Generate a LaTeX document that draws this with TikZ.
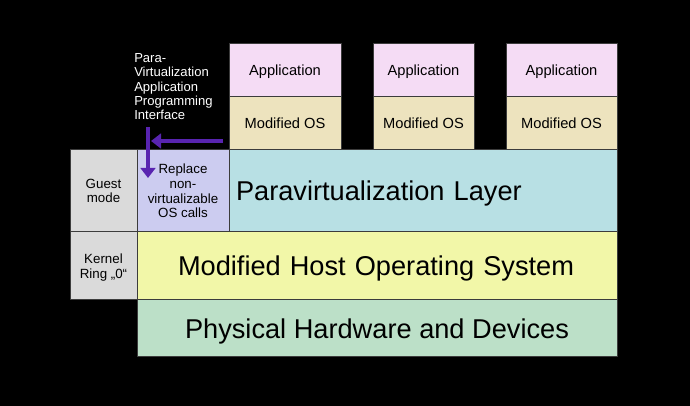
\documentclass[tikz,border=0pt]{standalone}
\usepackage{fontspec}
\setmainfont{Liberation Sans}
\usetikzlibrary{arrows.meta}
\definecolor{appc}{RGB}{245,220,245}
\definecolor{osc}{RGB}{237,227,190}
\definecolor{grayc}{RGB}{218,218,218}
\definecolor{repc}{RGB}{204,204,240}
\definecolor{parac}{RGB}{184,224,228}
\definecolor{hostc}{RGB}{242,247,168}
\definecolor{hwc}{RGB}{188,224,200}
\definecolor{arrc}{RGB}{88,36,176}
\definecolor{edgec}{RGB}{60,60,60}
\tikzset{
  box/.style={draw=edgec, line width=0.75pt, inner sep=0pt, align=center, text=black, text depth=0pt},
  small/.style={font=\fontsize{10}{11}\selectfont},
  mid/.style={font=\fontsize{11}{13}\selectfont},
  big/.style={font=\fontsize{20.4}{24}\selectfont},
  arr/.style={draw=arrc, line width=3.2pt, -{Triangle[length=7.5pt,width=11pt]}},
}
\begin{document}
\begin{tikzpicture}[x=0.75pt,y=-0.75pt]
\fill[black] (0,0) rectangle (690,406);
\useasboundingbox (0,0) rectangle (690,406);
% top stacks
\node[box,mid,fill=appc,minimum width=84pt,minimum height=39.75pt] (app1) at (285,70.5) {Application};
\node[box,mid,fill=osc,minimum width=84pt,minimum height=39.75pt] (os1) at (285,123.5) {Modified OS};
\node[box,mid,fill=appc,minimum width=75.75pt,minimum height=39.75pt] (app2) at (423.5,70.5) {Application};
\node[box,mid,fill=osc,minimum width=75.75pt,minimum height=39.75pt] (os2) at (423.5,123.5) {Modified OS};
\node[box,mid,fill=appc,minimum width=83.25pt,minimum height=39.75pt] (app3) at (561.5,70.5) {Application};
\node[box,mid,fill=osc,minimum width=83.25pt,minimum height=39.75pt] (os3) at (561.5,123.5) {Modified OS};
% layers
\node[box,small,fill=grayc,minimum width=50.25pt,minimum height=61.5pt] (guest) at (103.5,191) {Guest\\mode};
\node[box,small,fill=grayc,minimum width=50.25pt,minimum height=51pt] (kernel) at (103.5,266) {Kernel\\Ring „0“};
\node[box,small,fill=repc,minimum width=69pt,minimum height=61.5pt] (repl) at (183,191) {Replace\\non-\\virtualizable\\OS calls};
\node[box,big,fill=parac,minimum width=291pt,minimum height=61.5pt,text width=280.5pt,align=left] (para) at (423,191) {Paravirtualization Layer};
\node[box,big,fill=hostc,minimum width=360pt,minimum height=51pt,text width=298.5pt,align=left] (host) at (377,266) {Modified Host Operating System};
\node[box,big,fill=hwc,minimum width=360pt,minimum height=42.75pt] (hw) at (377,328.5) {Physical Hardware and Devices};
% annotation
\node[anchor=north west, inner sep=0pt, align=left, text=white, font=\fontsize{9.8}{10.6}\selectfont] (api) at (134,53.5) {Para-\\Virtualization\\Application\\Programming\\Interface};
\coordinate (hs) at (223,141);
\coordinate (he) at (151,141);
\coordinate (vs) at (148,127);
\coordinate (ve) at (148,178);
\draw[arr] (hs) -- (he);
\draw[arr] (vs) -- (ve);
\end{tikzpicture}
\end{document}
